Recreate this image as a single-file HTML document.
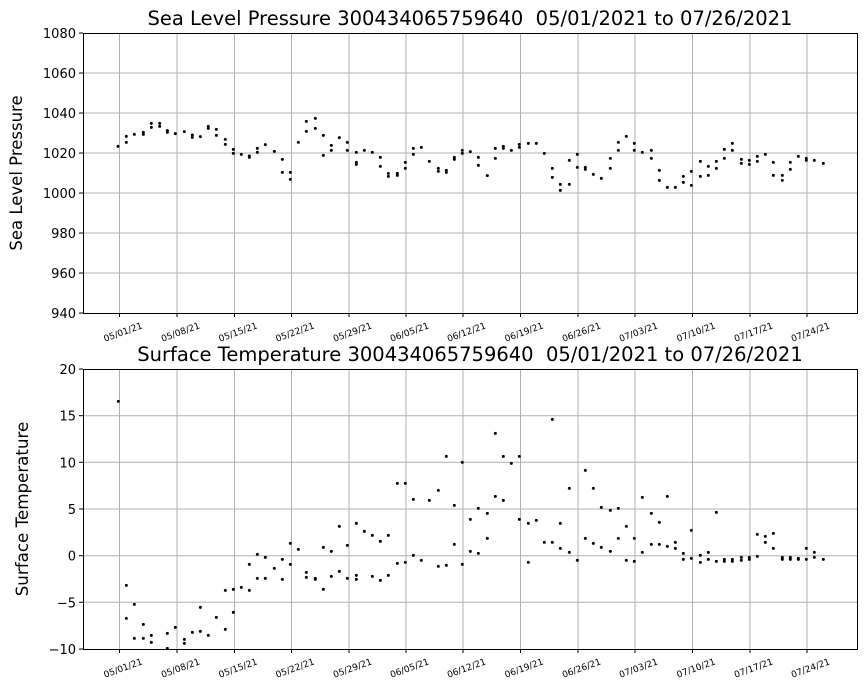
<!DOCTYPE html>
<html><head><meta charset="utf-8"><style>
body{margin:0;background:#fff;}
svg text{font-family:"DejaVu Sans","Liberation Sans",sans-serif;fill:#000;}
</style></head><body>
<svg width="867" height="695" xmlns="http://www.w3.org/2000/svg">
<rect width="867" height="695" fill="#fff"/>
<g id="grid" stroke="#b0b0b0" stroke-width="1">
<line x1="119.5" y1="33" x2="119.5" y2="313"/><line x1="177" y1="33" x2="177" y2="313"/><line x1="234.5" y1="33" x2="234.5" y2="313"/><line x1="291.5" y1="33" x2="291.5" y2="313"/><line x1="349" y1="33" x2="349" y2="313"/><line x1="406" y1="33" x2="406" y2="313"/><line x1="463" y1="33" x2="463" y2="313"/><line x1="520.5" y1="33" x2="520.5" y2="313"/><line x1="578" y1="33" x2="578" y2="313"/><line x1="635" y1="33" x2="635" y2="313"/><line x1="692.5" y1="33" x2="692.5" y2="313"/><line x1="750" y1="33" x2="750" y2="313"/><line x1="807" y1="33" x2="807" y2="313"/>
<line x1="83" y1="73" x2="857" y2="73"/><line x1="83" y1="113" x2="857" y2="113"/><line x1="83" y1="153" x2="857" y2="153"/><line x1="83" y1="193" x2="857" y2="193"/><line x1="83" y1="233" x2="857" y2="233"/><line x1="83" y1="273" x2="857" y2="273"/>
<line x1="119.5" y1="369" x2="119.5" y2="649"/><line x1="177" y1="369" x2="177" y2="649"/><line x1="234.5" y1="369" x2="234.5" y2="649"/><line x1="291.5" y1="369" x2="291.5" y2="649"/><line x1="349" y1="369" x2="349" y2="649"/><line x1="406" y1="369" x2="406" y2="649"/><line x1="463" y1="369" x2="463" y2="649"/><line x1="520.5" y1="369" x2="520.5" y2="649"/><line x1="578" y1="369" x2="578" y2="649"/><line x1="635" y1="369" x2="635" y2="649"/><line x1="692.5" y1="369" x2="692.5" y2="649"/><line x1="750" y1="369" x2="750" y2="649"/><line x1="807" y1="369" x2="807" y2="649"/>
<line x1="83" y1="415.7" x2="857" y2="415.7"/><line x1="83" y1="462.3" x2="857" y2="462.3"/><line x1="83" y1="509" x2="857" y2="509"/><line x1="83" y1="555.7" x2="857" y2="555.7"/><line x1="83" y1="602.3" x2="857" y2="602.3"/>
</g>
<rect x="83.5" y="33.5" width="774" height="280" fill="none" stroke="#000" stroke-width="1"/>
<rect x="83.5" y="369.5" width="774" height="280" fill="none" stroke="#000" stroke-width="1"/>
<g stroke="#000" stroke-width="1">
<line x1="79" y1="33" x2="83" y2="33"/><line x1="79" y1="73" x2="83" y2="73"/><line x1="79" y1="113" x2="83" y2="113"/><line x1="79" y1="153" x2="83" y2="153"/><line x1="79" y1="193" x2="83" y2="193"/><line x1="79" y1="233" x2="83" y2="233"/><line x1="79" y1="273" x2="83" y2="273"/><line x1="79" y1="313" x2="83" y2="313"/>
<line x1="79" y1="369" x2="83" y2="369"/><line x1="79" y1="415.7" x2="83" y2="415.7"/><line x1="79" y1="462.3" x2="83" y2="462.3"/><line x1="79" y1="509" x2="83" y2="509"/><line x1="79" y1="555.7" x2="83" y2="555.7"/><line x1="79" y1="602.3" x2="83" y2="602.3"/><line x1="79" y1="649" x2="83" y2="649"/>
</g>
<g font-size="13" text-anchor="end">
<text x="76" y="38">1080</text><text x="76" y="78">1060</text><text x="76" y="118">1040</text><text x="76" y="158">1020</text><text x="76" y="198">1000</text><text x="76" y="238">980</text><text x="76" y="278">960</text><text x="76" y="318">940</text>
<text x="76" y="374">20</text><text x="76" y="420.7">15</text><text x="76" y="467.3">10</text><text x="76" y="514">5</text><text x="76" y="560.7">0</text><text x="76" y="607.3">−5</text><text x="76" y="654">−10</text>
</g>
<g stroke="#000"><g id="xt">
<line x1="119.5" y1="313" x2="119.5" y2="317"/><line x1="177" y1="313" x2="177" y2="317"/><line x1="234.5" y1="313" x2="234.5" y2="317"/><line x1="291.5" y1="313" x2="291.5" y2="317"/><line x1="349" y1="313" x2="349" y2="317"/><line x1="406" y1="313" x2="406" y2="317"/><line x1="463" y1="313" x2="463" y2="317"/><line x1="520.5" y1="313" x2="520.5" y2="317"/><line x1="578" y1="313" x2="578" y2="317"/><line x1="635" y1="313" x2="635" y2="317"/><line x1="692.5" y1="313" x2="692.5" y2="317"/><line x1="750" y1="313" x2="750" y2="317"/><line x1="807" y1="313" x2="807" y2="317"/>
</g><use href="#xt" y="336"/></g>
<g font-size="9" text-anchor="end" id="xl">
<text transform="translate(143,328) rotate(-20)">05/01/21</text>
<text transform="translate(200.5,328) rotate(-20)">05/08/21</text>
<text transform="translate(258,328) rotate(-20)">05/15/21</text>
<text transform="translate(315,328) rotate(-20)">05/22/21</text>
<text transform="translate(372.5,328) rotate(-20)">05/29/21</text>
<text transform="translate(429.5,328) rotate(-20)">06/05/21</text>
<text transform="translate(486.5,328) rotate(-20)">06/12/21</text>
<text transform="translate(544,328) rotate(-20)">06/19/21</text>
<text transform="translate(601.5,328) rotate(-20)">06/26/21</text>
<text transform="translate(658.5,328) rotate(-20)">07/03/21</text>
<text transform="translate(716,328) rotate(-20)">07/10/21</text>
<text transform="translate(773.5,328) rotate(-20)">07/17/21</text>
<text transform="translate(830.5,328) rotate(-20)">07/24/21</text>
</g>
<use href="#xl" y="336"/>
<text x="470" y="25" font-size="19.5" text-anchor="middle" xml:space="preserve">Sea Level Pressure 300434065759640&#160; 05/01/2021 to 07/26/2021</text>
<text x="470" y="361" font-size="19.5" text-anchor="middle" xml:space="preserve">Surface Temperature 300434065759640&#160; 05/01/2021 to 07/26/2021</text>
<text transform="translate(22,173) rotate(-90)" font-size="16.5" text-anchor="middle">Sea Level Pressure</text>
<text transform="translate(28,509) rotate(-90)" font-size="16.7" text-anchor="middle">Surface Temperature</text>
<g transform="translate(83,100) scale(0.33333)" fill="#000">
<circle cx="105" cy="139" r="4.5"/><circle cx="130" cy="109" r="4.5"/><circle cx="130" cy="127" r="4.5"/><circle cx="154" cy="103" r="4.5"/><circle cx="181" cy="97" r="4.5"/><circle cx="181" cy="103" r="4.5"/><circle cx="205" cy="70" r="4.5"/><circle cx="205" cy="82" r="4.5"/><circle cx="230" cy="70" r="4.5"/><circle cx="230" cy="79" r="4.5"/><circle cx="253" cy="92" r="4.5"/><circle cx="253" cy="97" r="4.5"/><circle cx="277" cy="101" r="4.5"/><circle cx="304" cy="95" r="4.5"/><circle cx="328" cy="105" r="4.5"/><circle cx="328" cy="112" r="4.5"/><circle cx="352" cy="110" r="4.5"/><circle cx="376" cy="79" r="4.5"/><circle cx="376" cy="85" r="4.5"/><circle cx="400" cy="88" r="4.5"/><circle cx="400" cy="106" r="4.5"/><circle cx="427" cy="118" r="4.5"/><circle cx="427" cy="133" r="4.5"/><circle cx="451" cy="148" r="4.5"/><circle cx="451" cy="160" r="4.5"/><circle cx="475" cy="163" r="4.5"/><circle cx="499" cy="168" r="4.5"/><circle cx="499" cy="172" r="4.5"/><circle cx="523" cy="145" r="4.5"/><circle cx="523" cy="157" r="4.5"/><circle cx="547" cy="134" r="4.5"/><circle cx="574" cy="154" r="4.5"/><circle cx="598" cy="178" r="4.5"/><circle cx="598" cy="217" r="4.5"/><circle cx="622" cy="217" r="4.5"/><circle cx="622" cy="238" r="4.5"/><circle cx="646" cy="127" r="4.5"/><circle cx="670" cy="64" r="4.5"/><circle cx="670" cy="94" r="4.5"/><circle cx="697" cy="55" r="4.5"/><circle cx="697" cy="85" r="4.5"/><circle cx="721" cy="106" r="4.5"/><circle cx="721" cy="166" r="4.5"/><circle cx="745" cy="136" r="4.5"/><circle cx="745" cy="151" r="4.5"/><circle cx="769" cy="113" r="4.5"/><circle cx="793" cy="127" r="4.5"/><circle cx="793" cy="151" r="4.5"/><circle cx="820" cy="157" r="4.5"/><circle cx="820" cy="187" r="4.5"/><circle cx="820" cy="193" r="4.5"/><circle cx="844" cy="151" r="4.5"/><circle cx="868" cy="157" r="4.5"/><circle cx="892" cy="172" r="4.5"/><circle cx="892" cy="199" r="4.5"/><circle cx="916" cy="220" r="4.5"/><circle cx="916" cy="229" r="4.5"/><circle cx="943" cy="220" r="4.5"/><circle cx="943" cy="226" r="4.5"/><circle cx="967" cy="187" r="4.5"/><circle cx="967" cy="205" r="4.5"/><circle cx="991" cy="145" r="4.5"/><circle cx="991" cy="163" r="4.5"/><circle cx="1015" cy="142" r="4.5"/><circle cx="1039" cy="184" r="4.5"/><circle cx="1066" cy="205" r="4.5"/><circle cx="1066" cy="214" r="4.5"/><circle cx="1090" cy="211" r="4.5"/><circle cx="1090" cy="217" r="4.5"/><circle cx="1114" cy="172" r="4.5"/><circle cx="1114" cy="178" r="4.5"/><circle cx="1138" cy="151" r="4.5"/><circle cx="1138" cy="160" r="4.5"/><circle cx="1162" cy="155" r="4.5"/>
</g>
<g transform="translate(470,100) scale(0.33333)" fill="#000">
<circle cx="25" cy="172" r="4.5"/><circle cx="25" cy="196" r="4.5"/><circle cx="52" cy="227" r="4.5"/><circle cx="76" cy="145" r="4.5"/><circle cx="76" cy="175" r="4.5"/><circle cx="100" cy="139" r="4.5"/><circle cx="100" cy="145" r="4.5"/><circle cx="124" cy="151" r="4.5"/><circle cx="148" cy="133" r="4.5"/><circle cx="148" cy="142" r="4.5"/><circle cx="175" cy="130" r="4.5"/><circle cx="199" cy="130" r="4.5"/><circle cx="223" cy="160" r="4.5"/><circle cx="247" cy="205" r="4.5"/><circle cx="247" cy="232" r="4.5"/><circle cx="271" cy="253" r="4.5"/><circle cx="271" cy="271" r="4.5"/><circle cx="298" cy="181" r="4.5"/><circle cx="298" cy="253" r="4.5"/><circle cx="322" cy="163" r="4.5"/><circle cx="322" cy="202" r="4.5"/><circle cx="346" cy="202" r="4.5"/><circle cx="346" cy="208" r="4.5"/><circle cx="370" cy="223" r="4.5"/><circle cx="394" cy="235" r="4.5"/><circle cx="421" cy="175" r="4.5"/><circle cx="421" cy="205" r="4.5"/><circle cx="445" cy="127" r="4.5"/><circle cx="445" cy="151" r="4.5"/><circle cx="469" cy="109" r="4.5"/><circle cx="493" cy="130" r="4.5"/><circle cx="493" cy="151" r="4.5"/><circle cx="517" cy="157" r="4.5"/><circle cx="544" cy="151" r="4.5"/><circle cx="544" cy="175" r="4.5"/><circle cx="568" cy="211" r="4.5"/><circle cx="568" cy="241" r="4.5"/><circle cx="592" cy="262" r="4.5"/><circle cx="616" cy="262" r="4.5"/><circle cx="640" cy="229" r="4.5"/><circle cx="640" cy="247" r="4.5"/><circle cx="664" cy="214" r="4.5"/><circle cx="664" cy="256" r="4.5"/><circle cx="691" cy="184" r="4.5"/><circle cx="691" cy="229" r="4.5"/><circle cx="715" cy="199" r="4.5"/><circle cx="715" cy="226" r="4.5"/><circle cx="739" cy="184" r="4.5"/><circle cx="739" cy="205" r="4.5"/><circle cx="763" cy="148" r="4.5"/><circle cx="763" cy="175" r="4.5"/><circle cx="787" cy="130" r="4.5"/><circle cx="787" cy="151" r="4.5"/><circle cx="814" cy="178" r="4.5"/><circle cx="814" cy="190" r="4.5"/><circle cx="838" cy="181" r="4.5"/><circle cx="838" cy="193" r="4.5"/><circle cx="862" cy="169" r="4.5"/><circle cx="862" cy="184" r="4.5"/><circle cx="886" cy="163" r="4.5"/><circle cx="910" cy="187" r="4.5"/><circle cx="910" cy="226" r="4.5"/><circle cx="937" cy="226" r="4.5"/><circle cx="937" cy="241" r="4.5"/><circle cx="961" cy="187" r="4.5"/><circle cx="961" cy="208" r="4.5"/><circle cx="985" cy="169" r="4.5"/><circle cx="1009" cy="175" r="4.5"/><circle cx="1009" cy="181" r="4.5"/><circle cx="1033" cy="181" r="4.5"/><circle cx="1060" cy="190" r="4.5"/>
</g>
<g transform="translate(83,395) scale(0.33333)" fill="#000">
<circle cx="106" cy="19" r="4.5"/><circle cx="130" cy="571" r="4.5"/><circle cx="130" cy="670" r="4.5"/><circle cx="154" cy="628" r="4.5"/><circle cx="154" cy="730" r="4.5"/><circle cx="181" cy="688" r="4.5"/><circle cx="181" cy="730" r="4.5"/><circle cx="205" cy="721" r="4.5"/><circle cx="205" cy="742" r="4.5"/><circle cx="253" cy="715" r="4.5"/><circle cx="253" cy="760" r="4.5"/><circle cx="277" cy="697" r="4.5"/><circle cx="304" cy="733" r="4.5"/><circle cx="304" cy="745" r="4.5"/><circle cx="328" cy="712" r="4.5"/><circle cx="352" cy="637" r="4.5"/><circle cx="352" cy="709" r="4.5"/><circle cx="376" cy="721" r="4.5"/><circle cx="400" cy="667" r="4.5"/><circle cx="427" cy="586" r="4.5"/><circle cx="427" cy="703" r="4.5"/><circle cx="451" cy="583" r="4.5"/><circle cx="451" cy="652" r="4.5"/><circle cx="475" cy="577" r="4.5"/><circle cx="499" cy="508" r="4.5"/><circle cx="499" cy="586" r="4.5"/><circle cx="523" cy="478" r="4.5"/><circle cx="523" cy="550" r="4.5"/><circle cx="547" cy="487" r="4.5"/><circle cx="547" cy="550" r="4.5"/><circle cx="574" cy="520" r="4.5"/><circle cx="598" cy="493" r="4.5"/><circle cx="598" cy="553" r="4.5"/><circle cx="622" cy="445" r="4.5"/><circle cx="622" cy="508" r="4.5"/><circle cx="646" cy="463" r="4.5"/><circle cx="670" cy="532" r="4.5"/><circle cx="670" cy="547" r="4.5"/><circle cx="697" cy="550" r="4.5"/><circle cx="697" cy="553" r="4.5"/><circle cx="721" cy="457" r="4.5"/><circle cx="721" cy="583" r="4.5"/><circle cx="745" cy="469" r="4.5"/><circle cx="745" cy="544" r="4.5"/><circle cx="769" cy="394" r="4.5"/><circle cx="769" cy="529" r="4.5"/><circle cx="793" cy="451" r="4.5"/><circle cx="793" cy="550" r="4.5"/><circle cx="820" cy="385" r="4.5"/><circle cx="820" cy="541" r="4.5"/><circle cx="820" cy="553" r="4.5"/><circle cx="844" cy="409" r="4.5"/><circle cx="868" cy="421" r="4.5"/><circle cx="868" cy="544" r="4.5"/><circle cx="892" cy="439" r="4.5"/><circle cx="892" cy="556" r="4.5"/><circle cx="916" cy="421" r="4.5"/><circle cx="916" cy="541" r="4.5"/><circle cx="943" cy="265" r="4.5"/><circle cx="943" cy="505" r="4.5"/><circle cx="967" cy="265" r="4.5"/><circle cx="967" cy="502" r="4.5"/><circle cx="991" cy="313" r="4.5"/><circle cx="991" cy="481" r="4.5"/><circle cx="1015" cy="496" r="4.5"/><circle cx="1039" cy="316" r="4.5"/><circle cx="1066" cy="286" r="4.5"/><circle cx="1066" cy="514" r="4.5"/><circle cx="1090" cy="184" r="4.5"/><circle cx="1090" cy="511" r="4.5"/><circle cx="1114" cy="331" r="4.5"/><circle cx="1114" cy="448" r="4.5"/><circle cx="1138" cy="202" r="4.5"/><circle cx="1138" cy="508" r="4.5"/><circle cx="1162" cy="373" r="4.5"/><circle cx="1162" cy="469" r="4.5"/>
</g>
<g transform="translate(470,395) scale(0.33333)" fill="#000">
<circle cx="25" cy="340" r="4.5"/><circle cx="25" cy="475" r="4.5"/><circle cx="52" cy="355" r="4.5"/><circle cx="52" cy="430" r="4.5"/><circle cx="76" cy="115" r="4.5"/><circle cx="76" cy="304" r="4.5"/><circle cx="100" cy="184" r="4.5"/><circle cx="100" cy="316" r="4.5"/><circle cx="124" cy="205" r="4.5"/><circle cx="148" cy="184" r="4.5"/><circle cx="148" cy="373" r="4.5"/><circle cx="175" cy="385" r="4.5"/><circle cx="175" cy="502" r="4.5"/><circle cx="199" cy="376" r="4.5"/><circle cx="223" cy="442" r="4.5"/><circle cx="247" cy="73" r="4.5"/><circle cx="247" cy="442" r="4.5"/><circle cx="271" cy="385" r="4.5"/><circle cx="271" cy="460" r="4.5"/><circle cx="298" cy="280" r="4.5"/><circle cx="298" cy="472" r="4.5"/><circle cx="322" cy="496" r="4.5"/><circle cx="346" cy="226" r="4.5"/><circle cx="346" cy="430" r="4.5"/><circle cx="370" cy="280" r="4.5"/><circle cx="370" cy="445" r="4.5"/><circle cx="394" cy="337" r="4.5"/><circle cx="394" cy="457" r="4.5"/><circle cx="421" cy="346" r="4.5"/><circle cx="421" cy="469" r="4.5"/><circle cx="445" cy="340" r="4.5"/><circle cx="445" cy="430" r="4.5"/><circle cx="469" cy="394" r="4.5"/><circle cx="469" cy="496" r="4.5"/><circle cx="493" cy="430" r="4.5"/><circle cx="493" cy="499" r="4.5"/><circle cx="517" cy="307" r="4.5"/><circle cx="517" cy="472" r="4.5"/><circle cx="544" cy="355" r="4.5"/><circle cx="544" cy="448" r="4.5"/><circle cx="568" cy="382" r="4.5"/><circle cx="568" cy="448" r="4.5"/><circle cx="592" cy="304" r="4.5"/><circle cx="592" cy="454" r="4.5"/><circle cx="616" cy="442" r="4.5"/><circle cx="616" cy="460" r="4.5"/><circle cx="640" cy="475" r="4.5"/><circle cx="640" cy="493" r="4.5"/><circle cx="664" cy="406" r="4.5"/><circle cx="664" cy="490" r="4.5"/><circle cx="691" cy="481" r="4.5"/><circle cx="691" cy="502" r="4.5"/><circle cx="715" cy="472" r="4.5"/><circle cx="715" cy="493" r="4.5"/><circle cx="739" cy="352" r="4.5"/><circle cx="739" cy="499" r="4.5"/><circle cx="763" cy="493" r="4.5"/><circle cx="763" cy="499" r="4.5"/><circle cx="787" cy="493" r="4.5"/><circle cx="787" cy="499" r="4.5"/><circle cx="814" cy="487" r="4.5"/><circle cx="814" cy="496" r="4.5"/><circle cx="838" cy="487" r="4.5"/><circle cx="838" cy="493" r="4.5"/><circle cx="862" cy="418" r="4.5"/><circle cx="862" cy="484" r="4.5"/><circle cx="886" cy="424" r="4.5"/><circle cx="886" cy="442" r="4.5"/><circle cx="910" cy="415" r="4.5"/><circle cx="910" cy="460" r="4.5"/><circle cx="937" cy="487" r="4.5"/><circle cx="937" cy="493" r="4.5"/><circle cx="961" cy="487" r="4.5"/><circle cx="961" cy="493" r="4.5"/><circle cx="985" cy="490" r="4.5"/><circle cx="985" cy="493" r="4.5"/><circle cx="1009" cy="460" r="4.5"/><circle cx="1009" cy="493" r="4.5"/><circle cx="1033" cy="472" r="4.5"/><circle cx="1033" cy="487" r="4.5"/><circle cx="1060" cy="493" r="4.5"/>
</g>
</svg>
</body></html>
